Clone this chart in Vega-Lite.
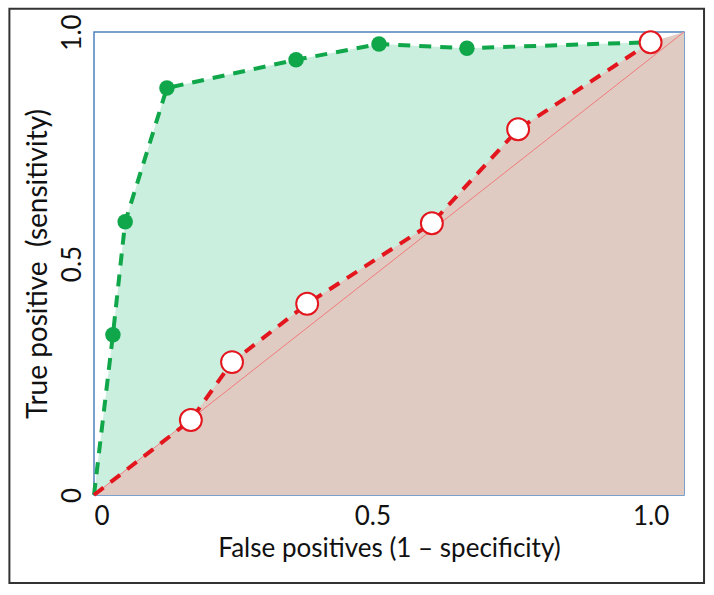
{
  "$schema": "https://vega.github.io/schema/vega-lite/v6.json",
  "width": 590,
  "height": 463,
  "autosize": {"type": "none"},
  "padding": {"left": 94, "top": 32, "right": 30, "bottom": 100},
  "background": "white",
  "config": {
    "view": {"stroke": "#4f81bd", "strokeWidth": 1.5},
    "axis": {
      "grid": false, "ticks": false, "domain": false,
      "labelFont": "Lato", "labelFontSize": 26, "labelColor": "#111",
      "titleFont": "Lato", "titleFontSize": 26, "titleFontWeight": "normal", "titleColor": "#111"
    }
  },
  "datasets": {
    "green": [
      {"x": 0, "y": 0}, {"x": 0.034, "y": 0.346}, {"x": 0.056, "y": 0.59},
      {"x": 0.131, "y": 0.879}, {"x": 0.363, "y": 0.94}, {"x": 0.512, "y": 0.974},
      {"x": 0.67, "y": 0.965}, {"x": 1.0, "y": 0.978}
    ],
    "greenArea": [
      {"x": 0, "y": 0}, {"x": 0.034, "y": 0.346}, {"x": 0.056, "y": 0.59},
      {"x": 0.131, "y": 0.879}, {"x": 0.363, "y": 0.94}, {"x": 0.512, "y": 0.974},
      {"x": 0.67, "y": 0.965}, {"x": 1.0, "y": 0.978}, {"x": 1.06, "y": 0.978}
    ],
    "red": [
      {"x": 0, "y": 0}, {"x": 0.174, "y": 0.162}, {"x": 0.248, "y": 0.287},
      {"x": 0.383, "y": 0.413}, {"x": 0.607, "y": 0.587}, {"x": 0.762, "y": 0.79},
      {"x": 1.0, "y": 0.978}
    ],
    "redArea": [
      {"x": 0, "y": 0}, {"x": 0.174, "y": 0.162}, {"x": 0.248, "y": 0.287},
      {"x": 0.383, "y": 0.413}, {"x": 0.607, "y": 0.587}, {"x": 0.762, "y": 0.79},
      {"x": 1.0, "y": 0.978}, {"x": 1.06, "y": 1.0}
    ],
    "diag": [{"x": 0, "y": 0}, {"x": 1.06, "y": 1.0}],
    "frame": [{"x": -0.152, "x2": 1.096, "y": -0.19, "y2": 1.05}]
  },
  "layer": [
    {
      "data": {"name": "frame"},
      "mark": {"type": "rect", "fill": null, "stroke": "#333", "strokeWidth": 2, "clip": false},
      "encoding": {
        "x": {"field": "x", "type": "quantitative", "scale": {"domain": [0, 1.06], "nice": false, "zero": false},
              "axis": {"values": [0, 0.5, 1], "labelExpr": "datum.value == 0 ? '0' : format(datum.value, '.1f')", "labelPadding": 8, "labelFlush": true, "title": "False positives (1 – specificity)", "titlePadding": 6}},
        "x2": {"field": "x2"},
        "y": {"field": "y", "type": "quantitative", "scale": {"domain": [0, 1], "nice": false, "zero": false},
              "axis": {"values": [0, 0.5, 1], "labelExpr": "datum.value == 0 ? '0' : format(datum.value, '.1f')", "labelAngle": 270, "labelPadding": 9, "labelFlush": true, "title": "True positive \u00a0(sensitivity)", "titleFontSize": 28, "titlePadding": 7}},
        "y2": {"field": "y2"}
      }
    },
    {
      "data": {"name": "greenArea"},
      "mark": {"type": "area", "color": "#cbefdf", "opacity": 1},
      "encoding": {
        "x": {"field": "x", "type": "quantitative", "scale": {"domain": [0, 1.06], "nice": false}},
        "y": {"field": "y", "type": "quantitative", "scale": {"domain": [0, 1], "nice": false}}
      }
    },
    {
      "data": {"name": "redArea"},
      "mark": {"type": "area", "color": "#e0cbc3", "opacity": 1},
      "encoding": {
        "x": {"field": "x", "type": "quantitative"},
        "y": {"field": "y", "type": "quantitative"}
      }
    },
    {
      "data": {"name": "diag"},
      "mark": {"type": "line", "color": "#f07a7a", "strokeWidth": 1},
      "encoding": {
        "x": {"field": "x", "type": "quantitative"},
        "y": {"field": "y", "type": "quantitative"}
      }
    },
    {
      "data": {"name": "green"},
      "mark": {"type": "line", "color": "#10a64a", "strokeWidth": 4, "strokeDash": [12, 9]},
      "encoding": {
        "x": {"field": "x", "type": "quantitative"},
        "y": {"field": "y", "type": "quantitative"}
      }
    },
    {
      "data": {"name": "red"},
      "mark": {"type": "line", "color": "#e3161e", "strokeWidth": 4, "strokeDash": [12, 9]},
      "encoding": {
        "x": {"field": "x", "type": "quantitative"},
        "y": {"field": "y", "type": "quantitative"}
      }
    },
    {
      "data": {"name": "green"},
      "transform": [{"filter": "datum.x > 0 && datum.x < 1"}],
      "mark": {"type": "point", "shape": "circle", "filled": true, "color": "#10a64a", "size": 240, "opacity": 1},
      "encoding": {
        "x": {"field": "x", "type": "quantitative"},
        "y": {"field": "y", "type": "quantitative"}
      }
    },
    {
      "data": {"name": "red"},
      "transform": [{"filter": "datum.x > 0"}],
      "mark": {"type": "point", "shape": "circle", "filled": true, "fill": "white", "stroke": "#e3161e", "strokeWidth": 2, "size": 480, "opacity": 1},
      "encoding": {
        "x": {"field": "x", "type": "quantitative"},
        "y": {"field": "y", "type": "quantitative"}
      }
    }
  ]
}
